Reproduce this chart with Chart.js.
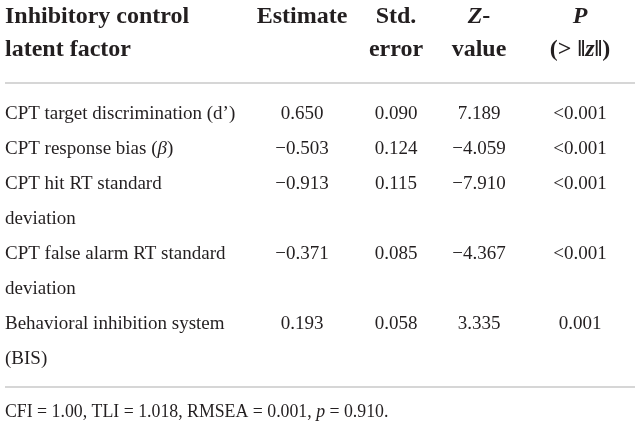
<!DOCTYPE html>
<html>
<head>
<meta charset="utf-8">
<script src="https://cdn.jsdelivr.net/npm/chart.js@4.4.0/dist/chart.umd.min.js"></script>
<style>
  html, body { margin: 0; padding: 0; background: #fff; }
  #wrap { width: 641px; height: 422px; position: relative; }
</style>
</head>
<body>
<div id="wrap"><canvas id="tableChart"></canvas></div>
<script>
// table content (_x_ = italic)
const headerLines = [
  ['Inhibitory control', 'latent factor'],
  ['Estimate'],
  ['Std.', 'error'],
  ['_Z_-', 'value'],
  ['_P_', '(> ‖_z_‖)']
];
const factors = [
  ['CPT target discrimination (d’)'],
  ['CPT response bias (_β_)'],
  ['CPT hit RT standard', 'deviation'],
  ['CPT false alarm RT standard', 'deviation'],
  ['Behavioral inhibition system', '(BIS)']
];
const estimate = [0.650, -0.503, -0.913, -0.371, 0.193];
const stdError = [0.090, 0.124, 0.115, 0.085, 0.058];
const zValue = [7.189, -4.059, -7.910, -4.367, 3.335];
const pValue = ['<0.001', '<0.001', '<0.001', '<0.001', '0.001'];
const note = 'CFI = 1.00, TLI = 1.018, RMSEA = 0.001, _p_ = 0.910.';

// layout
const colPos = [5, 302, 396, 479, 580];
const colAlign = ['left', 'center', 'center', 'center', 'center'];
const headerY = [-2.743, -1.8];
const ruleY = [-1.029, 7.657];
const noteY = 8.514;
const ruleX = [5, 635];
const FONT = '"Liberation Serif", "DejaVu Serif", serif';
const INK = '#231f20';

const fmt = v => (v < 0 ? '−' : '') + Math.abs(v).toFixed(3);

// each row starts on the line after the previous row's last line
const rowLine = [];
factors.reduce((acc, f, i) => { rowLine[i] = acc; return acc + f.length; }, 0);

const columns = [
  factors,
  estimate.map(v => [fmt(v)]),
  stdError.map(v => [fmt(v)]),
  zValue.map(v => [fmt(v)]),
  pValue.map(v => [v])
];

function drawRich(ctx, str, x, y, align, size, bold) {
  const parts = str.split('_');
  const font = it => `${it ? 'italic ' : ''}${bold ? 'bold ' : ''}${size}px ${FONT}`;
  const widths = parts.map((p, i) => { ctx.font = font(i % 2 === 1); return ctx.measureText(p).width; });
  const total = widths.reduce((a, b) => a + b, 0);
  let cx = align === 'center' ? x - total / 2 : x;
  parts.forEach((p, i) => {
    ctx.font = font(i % 2 === 1);
    ctx.fillText(p, cx, y);
    cx += widths[i];
  });
}

const tablePlugin = {
  id: 'tableText',
  afterDatasetsDraw(chart) {
    const { ctx, scales: { x, y } } = chart;
    ctx.save();
    ctx.fillStyle = INK;
    ctx.textBaseline = 'alphabetic';
    ctx.textAlign = 'left';

    // header
    headerLines.forEach((lines, c) => {
      lines.forEach((t, k) => {
        drawRich(ctx, t, x.getPixelForValue(colPos[c]), y.getPixelForValue(headerY[k]), colAlign[c], 24, true);
      });
    });

    // rules
    ctx.strokeStyle = '#c8c8c8';
    ctx.lineWidth = 1.5;
    ruleY.forEach(r => {
      const py = y.getPixelForValue(r);
      ctx.beginPath();
      ctx.moveTo(x.getPixelForValue(ruleX[0]), py);
      ctx.lineTo(x.getPixelForValue(ruleX[1]), py);
      ctx.stroke();
    });

    // cells
    chart.data.datasets.forEach((ds, c) => {
      const meta = chart.getDatasetMeta(c);
      meta.data.forEach((pt, i) => {
        ds.cells[i].forEach((t, k) => {
          const py = k === 0 ? pt.y : y.getPixelForValue(rowLine[i] + k);
          drawRich(ctx, t, pt.x, py, colAlign[c], 19, false);
        });
      });
    });

    // note
    drawRich(ctx, note, x.getPixelForValue(ruleX[0]), y.getPixelForValue(noteY), 'left', 17.8, false);
    ctx.restore();
  }
};

new Chart(document.getElementById('tableChart'), {
  type: 'scatter',
  data: {
    datasets: columns.map((cells, c) => ({
      cells: cells,
      data: cells.map((_, i) => ({ x: colPos[c], y: rowLine[i] })),
      pointRadius: 0,
      pointHoverRadius: 0
    }))
  },
  options: {
    responsive: true,
    maintainAspectRatio: false,
    animation: false,
    events: [],
    layout: { padding: 0 },
    plugins: { legend: { display: false }, tooltip: { enabled: false } },
    scales: {
      x: { type: 'linear', display: false, min: 0, max: 641 },
      y: { type: 'linear', display: false, reverse: true, min: -3.4, max: 8.657 }
    }
  },
  plugins: [tablePlugin]
});
</script>
</body>
</html>
